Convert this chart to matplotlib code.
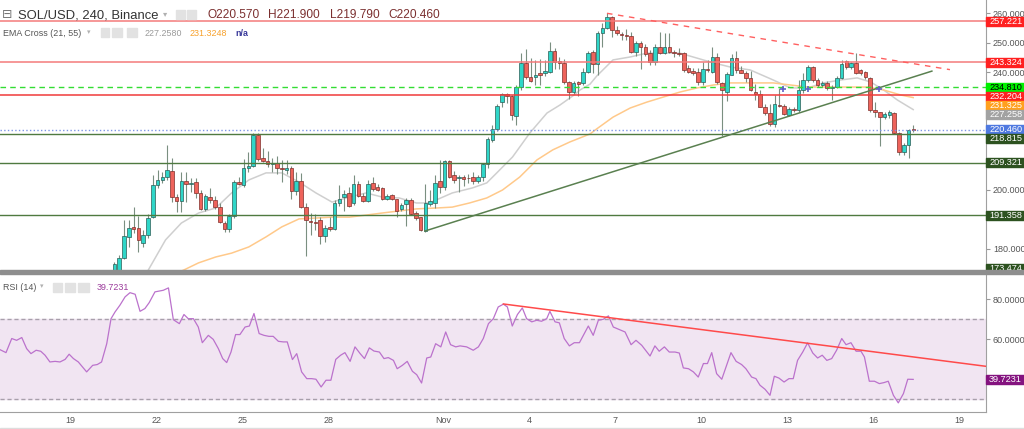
import numpy as np
import matplotlib
matplotlib.use("Agg")
import matplotlib.pyplot as plt
import matplotlib.transforms as mtrans
from matplotlib.patches import Rectangle

plt.rcParams['font.family'] = ['Liberation Sans', 'DejaVu Sans']

# ---- data (day numbers: Oct 19 = 19, Nov 1 = 32), 4h candles ----
t0 = 20.55
opens = [172.5, 173.0, 177.0, 184.1, 187.3, 187.1, 182.0, 184.8, 190.8, 201.7,
         203.4, 204.4, 206.4, 197.6, 196.3, 203.0, 202.0, 202.7, 199.0, 193.6,
         197.6, 196.6, 194.2, 188.8, 186.8, 191.2, 202.7, 201.7, 207.5, 208.1,
         218.6, 210.8, 209.8, 208.8, 209.2, 207.5, 206.8, 207.5, 199.7, 203.0,
         194.2, 189.5, 189.2, 189.8, 184.4, 187.6, 186.8, 195.6, 197.6, 199.0,
         195.6, 202.0, 198.0, 196.3, 202.4, 201.0, 200.7, 197.0, 198.3, 196.9,
         193.6, 195.3, 196.6, 192.2, 190.8, 186.1, 195.2, 195.6, 203.0, 201.0,
         209.8, 205.1, 204.0, 204.4, 204.2, 204.4, 203.0, 204.4, 208.8, 217.0,
         220.7, 229.8, 232.5, 231.9, 225.1, 234.9, 243.0, 238.3, 238.3, 239.6,
         239.7, 240.0, 247.1, 243.7, 243.0, 236.6, 233.2, 236.5, 236.3, 240.0,
         246.8, 242.8, 253.2, 254.9, 258.6, 254.2, 252.9, 252.5, 252.2, 246.8,
         249.8, 248.5, 246.5, 243.4, 248.5, 246.5, 248.5, 246.8, 246.5, 246.5,
         241.4, 240.3, 240.0, 236.6, 241.0, 240.0, 245.1, 236.3, 233.2, 239.0,
         244.7, 240.7, 239.7, 238.0, 233.2, 232.5, 228.1, 226.1, 222.4, 228.8,
         228.5, 225.4, 227.3, 227.0, 233.9, 237.3, 241.7, 237.3, 235.6, 236.3,
         234.6, 235.0, 238.0, 243.7, 241.7, 243.0, 240.7, 240.0, 238.0, 227.1,
         226.4, 224.7, 225.4, 226.1, 219.4, 212.9, 215.3, 220.57]
highs = [175.5, 177.8, 189.8, 189.8, 194.2, 191.2, 186.5, 191.9, 205.1, 206.8,
         206.1, 215.3, 210.8, 198.5, 206.1, 206.1, 204.1, 204.1, 200.0, 198.6,
         200.7, 198.0, 195.6, 189.5, 192.0, 203.5, 204.4, 210.5, 212.9, 219.3,
         219.3, 214.2, 213.2, 210.8, 211.5, 210.2, 210.2, 208.0, 206.1, 205.8,
         195.6, 192.2, 192.0, 191.0, 188.0, 190.8, 196.6, 201.7, 200.0, 201.0,
         205.1, 203.0, 199.0, 203.4, 204.4, 202.0, 201.0, 198.5, 198.5, 197.0,
         195.6, 197.3, 197.3, 192.8, 191.0, 202.0, 200.0, 205.1, 210.2, 210.2,
         210.2, 206.5, 205.0, 205.0, 205.3, 206.0, 205.0, 209.0, 218.0, 222.0,
         229.0, 233.0, 233.0, 232.2, 235.6, 246.5, 247.8, 244.7, 244.0, 244.5,
         244.0, 250.2, 248.0, 245.0, 244.5, 236.8, 237.0, 237.0, 241.5, 247.0,
         247.5, 254.0, 256.6, 260.0, 259.0, 255.5, 253.5, 254.5, 253.5, 250.5,
         250.5, 249.5, 247.5, 249.5, 253.6, 253.2, 253.2, 247.5, 248.0, 246.8,
         242.5, 241.5, 241.5, 243.5, 244.0, 248.5, 246.5, 236.5, 240.0, 246.0,
         247.0, 242.0, 240.5, 240.5, 236.0, 234.0, 229.0, 229.0, 232.2, 234.5,
         229.0, 228.0, 228.0, 237.3, 239.7, 242.3, 242.0, 238.0, 237.0, 237.0,
         235.6, 238.5, 244.0, 244.0, 243.5, 246.4, 241.0, 240.5, 238.3, 230.0,
         226.5, 226.5, 227.0, 226.5, 219.5, 216.0, 220.6, 221.9]
lows = [171.0, 172.0, 176.5, 180.7, 185.5, 179.0, 180.7, 183.7, 190.5, 200.7,
        202.4, 203.4, 195.9, 192.5, 192.5, 195.9, 199.3, 197.3, 193.2, 192.9,
        195.6, 193.5, 188.8, 185.8, 185.8, 190.5, 201.7, 201.0, 206.1, 207.8,
        210.0, 209.5, 207.8, 206.1, 205.5, 202.7, 205.5, 196.9, 198.3, 194.0,
        177.6, 184.8, 186.4, 181.7, 182.4, 186.0, 186.4, 194.5, 193.0, 194.2,
        195.0, 197.5, 195.8, 195.8, 199.8, 199.5, 196.6, 196.5, 196.5, 190.8,
        192.8, 187.8, 191.5, 189.8, 186.0, 185.8, 194.5, 193.9, 199.0, 200.0,
        204.0, 202.4, 199.3, 201.5, 202.5, 202.0, 202.5, 203.0, 207.5, 216.3,
        220.0, 228.1, 229.5, 223.7, 222.0, 234.0, 237.5, 236.5, 235.6, 235.6,
        238.8, 239.5, 241.0, 241.0, 236.0, 230.8, 232.5, 231.9, 235.5, 239.5,
        239.7, 239.0, 248.5, 254.5, 251.9, 252.5, 250.8, 251.0, 246.5, 245.5,
        241.0, 245.5, 242.5, 242.5, 246.0, 246.0, 246.5, 245.0, 245.5, 240.0,
        239.5, 239.0, 235.5, 235.5, 240.0, 239.5, 236.0, 218.3, 230.2, 239.0,
        239.5, 239.5, 236.5, 233.5, 230.5, 228.0, 225.5, 221.7, 221.4, 228.0,
        225.5, 225.0, 226.3, 226.5, 233.0, 236.5, 236.5, 235.0, 235.0, 234.0,
        230.5, 234.5, 237.5, 241.0, 241.0, 239.3, 239.0, 237.5, 226.5, 224.7,
        214.9, 224.2, 224.5, 219.0, 212.0, 211.8, 210.8, 219.79]
closes = [174.8, 177.0, 184.4, 187.1, 186.9, 183.1, 184.8, 190.5, 201.7, 203.4,
          204.4, 206.8, 197.6, 196.3, 203.0, 202.0, 202.3, 199.0, 193.6, 198.0,
          196.6, 194.2, 189.2, 186.8, 191.2, 202.7, 202.0, 207.5, 208.1, 218.6,
          210.5, 209.8, 208.8, 209.2, 207.5, 207.1, 207.5, 199.7, 203.0, 194.2,
          189.8, 189.2, 188.9, 184.4, 187.1, 186.9, 195.6, 196.9, 198.6, 194.6,
          202.0, 198.0, 196.3, 202.0, 200.3, 200.0, 197.0, 198.0, 197.0, 192.9,
          195.0, 196.6, 191.9, 190.5, 186.4, 195.6, 196.2, 202.4, 201.0, 209.8,
          204.4, 203.4, 204.4, 203.7, 204.0, 203.0, 204.4, 208.8, 217.3, 220.7,
          228.5, 232.5, 231.9, 225.4, 234.9, 243.0, 238.3, 237.0, 239.0, 238.9,
          240.3, 247.1, 243.4, 243.0, 236.6, 233.2, 236.3, 236.1, 240.0, 246.5,
          242.8, 253.2, 254.9, 258.6, 254.2, 253.2, 252.5, 252.3, 246.8, 249.8,
          248.5, 246.1, 243.4, 248.5, 246.5, 248.5, 246.8, 246.5, 246.1, 240.7,
          240.0, 239.7, 236.6, 241.0, 240.7, 245.1, 236.6, 233.9, 239.3, 244.7,
          240.7, 239.7, 238.0, 233.9, 232.5, 228.1, 226.1, 222.4, 229.1, 228.5,
          225.8, 227.5, 227.0, 233.9, 237.3, 241.7, 237.3, 235.6, 236.3, 234.6,
          234.9, 238.0, 242.7, 241.7, 243.0, 239.7, 239.7, 238.3, 227.1, 226.4,
          224.7, 225.8, 226.4, 219.4, 212.9, 215.3, 220.3, 220.46]

ema21_t = [21.5, 21.73, 22.33, 22.88, 23.48, 24.08, 24.63, 25.23, 25.83, 26.38,
           26.98, 27.57, 28.13, 28.73, 29.32, 29.88, 30.47, 31.07, 31.52, 32.32,
           33.02, 33.52, 33.87, 34.42, 35.02, 35.62, 36.07, 36.52, 36.77, 37.12,
           37.35, 37.92, 38.52, 39.10, 39.67, 40.25, 40.85, 41.42, 42.00, 42.70,
           43.50, 44.10, 44.70, 45.25, 45.85, 46.43, 46.90, 47.35, 47.83, 48.38]
ema21_v = [169.5, 172.9, 183.1, 188.8, 192.2, 193.9, 199.0, 203.4, 205.8, 205.8,
           202.7, 199.0, 195.9, 197.6, 199.0, 197.6, 197.3, 195.6, 195.6, 199.0,
           200.7, 202.4, 205.8, 211.2, 219.3, 226.1, 228.8, 231.9, 233.9, 235.9,
           238.6, 244.1, 245.1, 246.4, 246.4, 246.4, 244.7, 243.1, 241.7, 240.7,
           237.3, 234.6, 234.6, 236.3, 237.3, 238.0, 236.6, 233.9, 230.5, 227.258]

ema55_t = [22.4, 22.97, 23.48, 24.08, 24.63, 25.23, 25.83, 26.38, 26.98, 27.57,
           28.13, 28.73, 29.32, 29.88, 30.47, 31.07, 31.77, 32.32, 32.92, 33.52,
           34.07, 34.67, 35.27, 35.82, 36.42, 37.12, 37.35, 37.92, 38.52, 39.10,
           39.67, 40.25, 40.85, 41.42, 42.00, 42.70, 43.50, 44.70, 45.85, 46.78,
           47.35, 47.95, 48.38]
ema55_v = [170.5, 172.9, 175.3, 177.3, 178.6, 180.7, 184.1, 187.5, 190.2, 190.5,
           190.8, 190.8, 191.5, 192.2, 192.9, 193.6, 193.9, 194.2, 195.6, 197.3,
           200.0, 204.4, 210.2, 213.6, 216.3, 219.0, 220.7, 224.7, 227.8, 229.8,
           231.5, 233.2, 234.6, 235.6, 236.3, 236.3, 236.3, 234.9, 234.9, 234.9,
           233.9, 232.2, 231.325]

rsi_t = [16.56, 16.77, 16.97, 17.14, 17.32, 17.49, 17.64, 17.82, 17.98, 18.13,
         18.30, 18.48, 18.65, 18.83, 18.97, 19.12, 19.29, 19.58, 19.79, 19.95,
         20.10, 20.28, 20.43, 20.57, 20.74, 20.92, 21.09, 21.27, 21.44, 21.61,
         21.76, 21.96, 22.25, 22.43, 22.60, 22.81, 22.97, 23.12, 23.30, 23.47,
         23.61, 23.82, 23.99, 24.17, 24.32, 24.46, 24.61, 24.77, 24.92, 25.10,
         25.25, 25.41, 25.59, 25.76, 25.93, 26.08, 26.26, 26.43, 26.57, 26.75,
         26.90, 27.07, 27.25, 27.42, 27.57, 27.75, 27.92, 28.09, 28.26, 28.43,
         28.58, 28.76, 28.93, 29.11, 29.26, 29.43, 29.59, 29.78, 29.94, 30.09,
         30.27, 30.40, 30.58, 30.75, 30.93, 31.08, 31.25, 31.43, 31.57, 31.74,
         31.92, 32.09, 32.26, 32.44, 32.59, 32.82, 33.05, 33.23, 33.40, 33.58,
         33.75, 33.92, 34.10, 34.24, 34.41, 34.59, 34.76, 34.91, 35.09, 35.26,
         35.43, 35.61, 35.72, 35.90, 36.05, 36.22, 36.40, 36.57, 36.75, 37.06,
         37.23, 37.41, 37.58, 37.76, 37.93, 38.11, 38.34, 38.55, 38.72, 38.92,
         39.21, 39.38, 39.53, 39.71, 39.88, 40.08, 40.23, 40.37, 40.55, 40.72,
         40.89, 41.07, 41.21, 41.36, 41.53, 41.71, 42.03, 42.21, 42.40, 42.55,
         42.75, 42.90, 43.04, 43.22, 43.39, 43.54, 43.70, 43.88, 44.05, 44.20,
         44.35, 44.53, 44.70, 44.88, 45.05, 45.21, 45.37, 45.54, 45.71, 45.89,
         46.04, 46.21, 46.39, 46.56, 46.68, 46.85, 47.03, 47.20, 47.36, 47.51,
         47.69, 47.86, 48.04, 48.19, 48.38]
rsi_v = [54.7, 53.2, 60.3, 59.4, 60.8, 55.2, 52.7, 54.4, 53.9, 51.9,
         48.5, 48.8, 48.5, 49.8, 52.4, 50.2, 48.5, 43.5, 46.8, 47.2,
         48.5, 57.7, 70.3, 73.7, 77.1, 81.3, 83.4, 82.6, 74.0, 75.4,
         78.4, 83.8, 84.6, 85.8, 69.8, 67.8, 72.4, 70.3, 70.3, 66.1,
         58.2, 61.9, 59.9, 55.2, 50.2, 48.2, 53.5, 62.3, 62.3, 66.1,
         66.6, 72.9, 62.8, 61.9, 61.4, 61.4, 58.9, 58.6, 58.6, 49.7,
         52.7, 43.5, 40.1, 40.1, 39.8, 35.9, 39.3, 39.3, 49.8, 51.9,
         53.2, 48.8, 56.1, 52.7, 50.2, 55.6, 54.0, 53.5, 50.2, 50.7,
         49.3, 45.1, 46.8, 48.8, 43.8, 42.1, 37.9, 50.5, 51.0, 57.7,
         56.1, 63.6, 57.2, 56.1, 56.6, 56.1, 54.4, 56.1, 60.3, 67.8,
         70.3, 76.2, 77.6, 76.2, 66.6, 72.4, 75.7, 70.3, 68.7, 69.5,
         69.0, 70.3, 74.0, 68.7, 68.2, 60.3, 56.6, 58.2, 58.2, 66.6,
         61.9, 69.5, 70.0, 71.7, 66.1, 65.0, 63.6, 57.2, 59.4, 56.9,
         51.5, 56.6, 53.9, 56.1, 53.5, 53.5, 53.0, 45.5, 45.1, 43.5,
         40.9, 47.7, 47.7, 53.2, 42.6, 39.8, 53.2, 48.8, 47.2, 45.1,
         40.9, 40.1, 36.8, 34.7, 31.7, 41.3, 40.4, 38.4, 40.1, 40.1,
         49.3, 53.5, 58.1, 53.0, 50.5, 51.9, 49.3, 50.2, 54.4, 60.3,
         57.2, 58.2, 53.9, 53.9, 51.0, 38.8, 38.8, 37.6, 38.1, 38.8,
         31.7, 27.9, 32.6, 39.8, 39.7231]

# price levels on the right scale
level_vals = [257.221, 243.324, 234.810, 232.204, 231.325, 227.258, 220.460,
              218.815, 209.321, 191.358, 173.474]
level_bg = ['#ff2020', '#ff2020', '#00f000', '#ff2020', '#ffa01e', '#a2a2a2',
            '#4f79e0', '#2d5220', '#2d5220', '#2d5220', '#2d5220']
level_fg = ['white', 'white', 'black', 'white', 'white', 'white', 'white',
            'white', 'white', 'white', 'white']

# drawn trendlines (day, value)
down_line = ([37.71, 49.66], [259.9, 240.8])
up_line = ([31.37, 49.03], [186.1, 240.3])
rsi_line = ([34.10, 50.92], [77.7, 46.3])
cross_t = [43.84, 44.71, 47.18]
cross_v = [234.2, 234.2, 234.3]

tick_days = [19, 22, 25, 28, 32, 35, 38, 41, 44, 47, 50]
tick_names = ['19', '22', '25', '28', 'Nov', '4', '7', '10', '13', '16', '19']

W, H = 1024, 429


def fx(x):
    return x / W


def fy(y):
    return 1 - y / H


fig = plt.figure(figsize=(W / 100, H / 100), dpi=100)
ax = fig.add_axes([0, fy(270), fx(986), 270 / H])
ax2 = fig.add_axes([0, fy(412), fx(986), 138 / H])

xl = (16.561, 50.916)
for a in (ax, ax2):
    a.set_xlim(*xl)
    for s in ('left', 'top', 'bottom'):
        a.spines[s].set_visible(False)
    a.spines['right'].set_color('#a0a0a0')
    a.yaxis.tick_right()
    a.tick_params(axis='y', length=3, color='#999999', labelsize=6.5,
                  labelcolor='#555555', pad=2)
ax.set_ylim(172.88, 264.41)
ax2.set_ylim(23.3, 92.8)

# ---- main panel ----
t = t0 + np.arange(len(opens)) / 6
o = np.array(opens)
c = np.array(closes)
up = c >= o
ax.plot(ema21_t, ema21_v, color='#cfcfcf', lw=1.1, zorder=2)
ax.plot(ema55_t, ema55_v, color='#ffc98a', lw=1.1, zorder=2)
ax.vlines(t, lows, highs, color='#7a8f80', lw=0.8, zorder=3)
ax.bar(t[up], np.maximum(c - o, 0.15)[up], bottom=o[up], width=0.125,
       color='#2fd6c8', edgecolor='#2c5c55', lw=0.5, zorder=4)
ax.bar(t[~up], np.maximum(o - c, 0.15)[~up], bottom=c[~up], width=0.125,
       color='#ee635b', edgecolor='#7e2e2a', lw=0.5, zorder=4)

ax.axhline(level_vals[0], color='#f47a7a', lw=1.1, zorder=5)
ax.axhline(level_vals[1], color='#f47a7a', lw=1.1, zorder=5)
ax.axhline(level_vals[2], color='#33dd33', lw=1, dashes=(4, 3), zorder=5)
ax.axhline(level_vals[3], color='#f03a3a', lw=1.1, zorder=5)
ax.axhline(level_vals[6], color='#7d95e6', lw=1, ls=':', zorder=5)
for v in level_vals[7:10]:
    ax.axhline(v, color='#4f7a40', lw=1, zorder=5)

ax.plot(*down_line, color='#ff6060', lw=1, dashes=(4, 4), zorder=5)
ax.plot(*up_line, color='#5a8050', lw=1.1, zorder=5)
ax.plot(cross_t, cross_v, '+', color='#6060c8', ms=4, mew=1.2, zorder=6)

ax.set_xticks([])
ax.set_yticks([180, 200, 240, 250, 260])
ax.set_yticklabels(['%.3f' % v for v in [180, 200, 240, 250, 260]])


def price_tag(a, y, s, bg, fg, units_per_px):
    # tag box on the right scale, 38px wide and 9px tall
    tr = mtrans.blended_transform_factory(a.transAxes, a.transData)
    hh = 4.7 * units_per_px
    a.add_patch(Rectangle((1.0, y - hh), 38 / 986, 2 * hh, transform=tr,
                          color=bg, clip_on=False, zorder=20))
    a.text(1 + 3 / 986, y, s, transform=tr, ha='left', va='center',
           fontsize=6.6, color=fg, clip_on=False, zorder=21)


# stack the tags so they do not cover each other
ppu = 270 / (264.41 - 172.88)
gap = 9.0 / ppu
tag_y = []
for v in level_vals:
    if tag_y and tag_y[-1] - v < gap:
        tag_y.append(tag_y[-1] - gap)
    else:
        tag_y.append(v)
for y, v, bg, fg in zip(tag_y, level_vals, level_bg, level_fg):
    price_tag(ax, y, '%.3f' % v, bg, fg, 1 / ppu)

# ---- RSI panel ----
ax2.axhspan(30, 70, color='#f1e5f2', zorder=0)
ax2.axhline(70, color='#a89fab', lw=1, dashes=(3, 2))
ax2.axhline(30, color='#a89fab', lw=1, dashes=(3, 2))
ax2.plot(rsi_t, rsi_v, color='#bb72cc', lw=0.9, zorder=3)
ax2.plot(*rsi_line, color='#ff4a4a', lw=1.1, zorder=4)
ax2.spines['bottom'].set_visible(True)
ax2.spines['bottom'].set_color('#a0a0a0')
ax2.set_yticks([60, 80])
ax2.set_yticklabels(['60.0000', '80.0000'])
ax2.set_xticks(tick_days)
ax2.set_xticklabels(tick_names)
ax2.tick_params(axis='x', length=0, labelsize=6.5, labelcolor='#555555', pad=3)
price_tag(ax2, rsi_v[-1], '39.7231', '#84137f', 'white', (92.8 - 23.3) / 138)

# panel separator
fig.add_artist(Rectangle((0, fy(274)), 1, 3.6 / H, transform=fig.transFigure,
                         color='#8e8e8e', zorder=10))
fig.add_artist(Rectangle((0, fy(429)), 1, 1.2 / H, transform=fig.transFigure,
                         color='#dddddd', zorder=10))


def icon(x, y, w=9, h=9):
    fig.add_artist(Rectangle((fx(x), fy(y + h)), w / W, h / H,
                             transform=fig.transFigure, color='#e2e2e2', zorder=11))


# ---- header texts ----
fig.text(fx(2), fy(15), '\u229f', fontsize=9, color='#777777', va='center',
         family=['DejaVu Sans'])
fig.text(fx(18), fy(15), 'SOL/USD, 240, Binance', fontsize=9.4, color='#333333',
         va='center')
fig.text(fx(163), fy(14), '\u25be', fontsize=6, color='#b0b0b0', va='center',
         family=['DejaVu Sans'])
icon(176, 10)
icon(187, 10)
hdr = [('O220.570', 207), ('H221.900', 268), ('L219.790', 330), ('C220.460', 388)]
for s, x in hdr:
    fig.text(fx(x), fy(15), s, fontsize=8.6, color='#7b2f2f', va='center')

fig.text(fx(3), fy(33), 'EMA Cross (21, 55)', fontsize=6.4, color='#555555',
         va='center')
fig.text(fx(87), fy(32), '\u25be', fontsize=5, color='#b0b0b0', va='center',
         family=['DejaVu Sans'])
icon(101, 28, 8, 9)
icon(112, 28, 10, 9)
icon(127, 28, 10, 9)
fig.text(fx(145), fy(33), '227.2580', fontsize=6.4, color='#9a9a9a', va='center')
fig.text(fx(190), fy(33), '231.3248', fontsize=6.4, color='#f7a12c', va='center')
fig.text(fx(235), fy(33), 'n/a', fontsize=6.4, color='#3a3a9a', va='center',
         weight='bold')

fig.text(fx(3), fy(287), 'RSI (14)', fontsize=6.4, color='#555555', va='center')
fig.text(fx(40), fy(286), '\u25be', fontsize=5, color='#b0b0b0', va='center',
         family=['DejaVu Sans'])
icon(53, 283, 9, 9)
icon(65, 283, 10, 9)
icon(78, 283, 11, 9)
fig.text(fx(97), fy(287), '39.7231', fontsize=6.4, color='#9c3c9c', va='center')

fig.savefig('out.png', dpi=100)
